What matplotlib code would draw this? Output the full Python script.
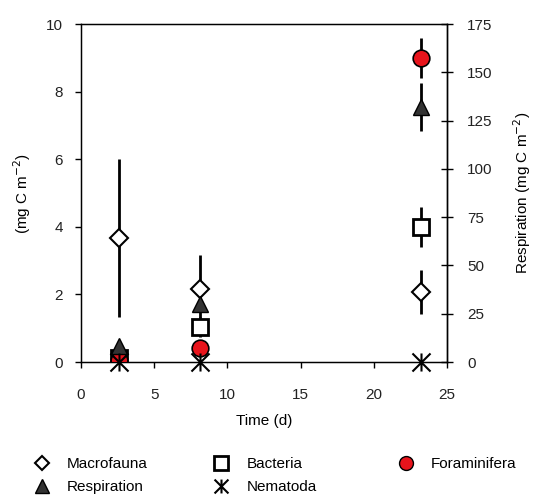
import matplotlib
matplotlib.use("Agg")
import matplotlib.pyplot as plt
from matplotlib.lines import Line2D
from matplotlib.path import Path

plt.rcParams['font.family'] = ['Liberation Sans', 'DejaVu Sans']
plt.rcParams['font.size'] = 11

# time points (d)
time = [2.6, 8.1, 23.2]

# left axis, mg C m-2
macro = [3.67, 2.16, 2.07]
macro_err = [2.35, 1.0, 0.65]
bact = [0.12, 1.03, 4.0]
bact_err = [0.05, 0.3, 0.6]
foram = [0.05, 0.42, 9.0]
foram_err = [0.03, 0.15, 0.6]
nema = [0.0, 0.0, 0.0]

# right axis, respiration mg C m-2
resp = [8.5, 30.0, 132.0]
resp_err = [1.0, 3.0, 12.5]

# X with a vertical bar through it
star = Path([(-1, -1), (1, 1), (-1, 1), (1, -1), (0, -1), (0, 1)],
            [Path.MOVETO, Path.LINETO, Path.MOVETO, Path.LINETO, Path.MOVETO, Path.LINETO])

fig = plt.figure(figsize=(5.33, 4.97), dpi=100)
ax = fig.add_axes([0.152, 0.2716, 0.687, 0.680])

ax.errorbar(time, macro, yerr=macro_err, fmt='D', ms=9, mfc='white', mec='black',
            mew=1.5, ecolor='black', elinewidth=2, capsize=0, zorder=3)
ax.errorbar(time, bact, yerr=bact_err, fmt='s', ms=12, mfc='white', mec='black',
            mew=2, ecolor='black', elinewidth=2, capsize=0, zorder=3)
ax.errorbar(time, foram, yerr=foram_err, fmt='o', ms=12, mfc='#e8141c', mec='black',
            mew=1.2, ecolor='black', elinewidth=2, capsize=0, zorder=4)

ax.set_xlim(0, 25)
ax.set_ylim(0, 10)
ax.set_xticks([0, 5, 10, 15, 20, 25])
ax.set_yticks([0, 2, 4, 6, 8, 10])
ax.set_xlabel('Time (d)', labelpad=8)
ax.set_ylabel('(mg C m$^{-2}$)', labelpad=9)
ax.tick_params(direction='out', length=4, width=1, pad=9, labelcolor='#222222')
ax.tick_params(axis='x', pad=15)
for s in ax.spines.values():
    s.set_linewidth(1)

ax2 = ax.twinx()
ax2.errorbar(time, resp, yerr=resp_err, fmt='^', ms=12, mfc='#333333', mec='black',
             mew=1, ecolor='black', elinewidth=2, capsize=0, zorder=3)
ax2.plot(time, [n * 17.5 for n in nema], ls='none', marker=star, ms=13,
         mec='black', mew=1.5, zorder=5, clip_on=False)
ax2.set_ylim(0, 175)
ax2.set_yticks([0, 25, 50, 75, 100, 125, 150, 175])
ax2.set_ylabel('Respiration (mg C m$^{-2}$)', labelpad=13)
ax2.tick_params(direction='inout', length=9, width=1, pad=10, labelcolor='#222222')
ax2.spines['right'].set_linewidth(1)

h_macro = Line2D([], [], ls='none', marker='D', ms=7, mfc='white', mec='black', mew=1.5)
h_resp = Line2D([], [], ls='none', marker='^', ms=10, mfc='#333333', mec='black', mew=1)
h_bact = Line2D([], [], ls='none', marker='s', ms=10, mfc='white', mec='black', mew=2)
h_nema = Line2D([], [], ls='none', marker=star, ms=10, mec='black', mew=1.5)
h_foram = Line2D([], [], ls='none', marker='o', ms=10, mfc='#e8141c', mec='black', mew=1)

columns = [([h_macro, h_resp], ['Macrofauna', 'Respiration'], 0.045),
           ([h_bact, h_nema], ['Bacteria', 'Nematoda'], 0.382),
           ([h_foram], ['Foraminifera'], 0.728)]
for hs, labs, x0 in columns:
    fig.legend(hs, labs, loc='upper left', bbox_to_anchor=(x0, 0.093),
               frameon=False, handletextpad=0.9, labelspacing=0.6,
               handlelength=1.5, fontsize=11, borderaxespad=0)

fig.savefig('out.png', dpi=100)
